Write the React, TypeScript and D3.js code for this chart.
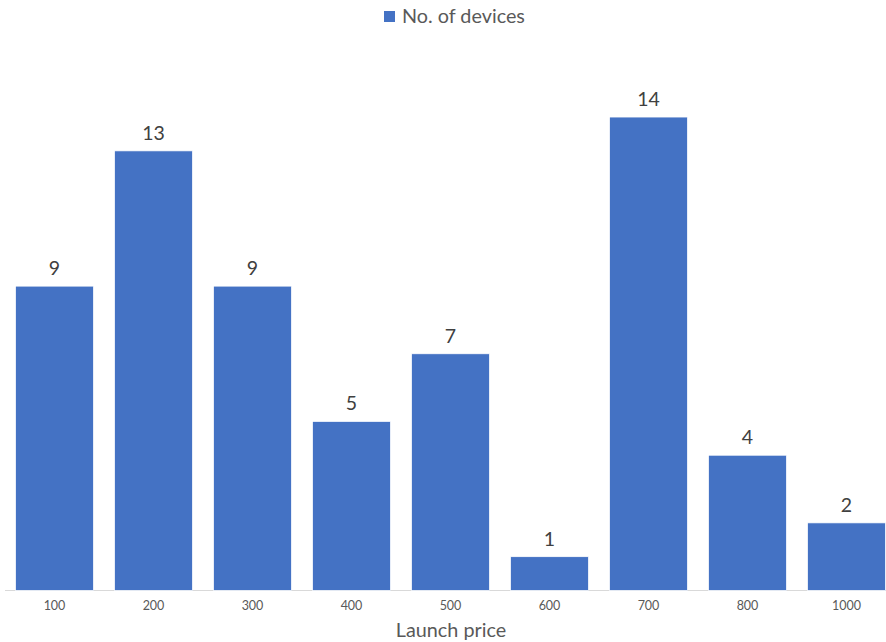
import React from "react";
import * as d3 from "d3";

const categories = ["100", "200", "300", "400", "500", "600", "700", "800", "1000"];
const values = [9, 13, 9, 5, 7, 1, 14, 4, 2];
const seriesName = "No. of devices";
const xTitle = "Launch price";

export default function App() {
  const W = 886, H = 642;
  const x = d3.scaleBand<string>().domain(categories).range([5, 896]).paddingInner(0.212).paddingOuter(0.106);
  const y = d3.scaleLinear().domain([0, 16]).range([590.5, 49.4]);
  const font = "Lato, 'Open Sans', sans-serif";
  return (
    <svg width={W} height={H} style={{ position: "absolute", left: 0, top: 0, background: "#fff" }}>
      <line x1={5} x2={W} y1={y(0)} y2={y(0)} stroke="#d9d9d9" strokeWidth={1} />
      {values.map((v, i) => (
        <rect key={i} x={x(categories[i])} y={y(v)} width={x.bandwidth()} height={y(0) - y(v)}
          fill="#4472C4" stroke="#ffffff" strokeWidth={0.75} />
      ))}
      {values.map((v, i) => (
        <text key={"l" + i} x={(x(categories[i]) as number) + x.bandwidth() / 2} y={y(v) - 11}
          textAnchor="middle" fontFamily={font} fontSize={19.5} fill="#404040">{v}</text>
      ))}
      {categories.map((c) => (
        <text key={"t" + c} x={(x(c) as number) + x.bandwidth() / 2} y={610}
          textAnchor="middle" fontFamily={font} fontSize={12.5} fill="#595959">{c}</text>
      ))}
      <text x={451} y={637} textAnchor="middle" fontFamily={font} fontSize={19.8} fill="#595959">{xTitle}</text>
      <rect x={384} y={11} width={11} height={11} fill="#4472C4" />
      <text x={402} y={23} fontFamily={font} fontSize={19.8} fill="#595959">{seriesName}</text>
    </svg>
  );
}
